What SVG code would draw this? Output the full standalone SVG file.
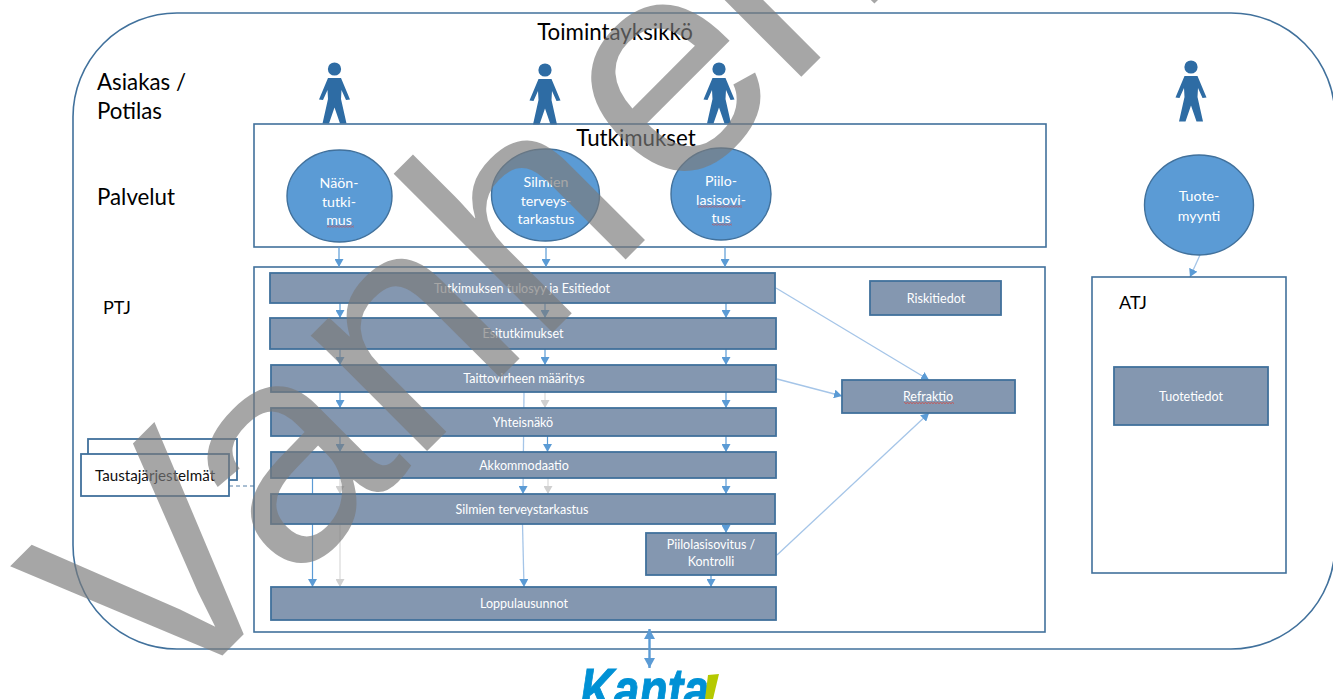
<svg xmlns="http://www.w3.org/2000/svg" width="1333" height="699" viewBox="0 0 1333 699">
<style>
text{font-family:"Lato","Open Sans","Liberation Sans",sans-serif}
.frame{fill:none;stroke:#41719c;stroke-width:1.6}
.frameW{fill:#fff;stroke:#41719c;stroke-width:1.8}
.bar{fill:#8497b0;stroke:#41719c;stroke-width:1.8}
.circ{fill:#5b9bd5;stroke:#41719c;stroke-width:1.4}
.lbl{font-size:12.5px;fill:#fff;text-anchor:middle}
.clbl{font-size:14.2px;fill:#fff;text-anchor:middle}
.head{font-size:22.3px;fill:#000}
.sub{font-size:18px;fill:#000}
.blk{font-size:15.2px;fill:#111;text-anchor:middle}
.a{fill:none;stroke:#5b9bd5;stroke-width:1.2;marker-end:url(#ab)}
.l{fill:none;stroke:#a5c5e8;stroke-width:1.3;marker-end:url(#ab)}
.g{fill:none;stroke:#d9d9d9;stroke-width:1.2;marker-end:url(#ag)}
.person{fill:#2e6ca4}
.sq{fill:url(#wave)}
</style>
<defs>
<marker id="ab" markerUnits="userSpaceOnUse" markerWidth="9" markerHeight="9" refX="8" refY="4.5" orient="auto"><path d="M0 0L8 4.500L0 9z" fill="#5b9bd5"/></marker>
<marker id="ag" markerUnits="userSpaceOnUse" markerWidth="9" markerHeight="9" refX="8" refY="4.5" orient="auto"><path d="M0 0L8 4.500L0 9z" fill="#d0d0d0"/></marker>
<marker id="big" markerUnits="userSpaceOnUse" markerWidth="12" markerHeight="12" refX="10" refY="5.5" orient="auto-start-reverse"><path d="M0 0L10 5.500L0 11z" fill="#5b9bd5"/></marker>
<pattern id="wave" patternUnits="userSpaceOnUse" width="3" height="2"><path d="M0 1.600L1.500 .4L3 1.600" fill="none" stroke="#d9423a" stroke-width=".8"/></pattern>
<symbol id="man" viewBox="0 0 32 62" width="32" height="62" overflow="visible"><circle cx="16" cy="7" r="6.600"/><path d="M9.500 16H22.500L31.500 37.500L27.500 38L23 28L22.500 37L28 61.500H21.500L16 45.500L10.500 61.500H4L9.500 37L9 28L4.500 38L.5 37.500z"/></symbol>
</defs>

<rect id="toimintayksikko-frame" class="frame" x="73" y="13" width="1262" height="636" rx="104" ry="104"/>
<text class="head" x="615" y="40" text-anchor="middle">Toimintayksikkö</text>
<text class="head" x="97" y="90">Asiakas /</text>
<text class="head" x="97" y="119">Potilas</text>
<text class="head" x="97" y="205">Palvelut</text>
<text class="sub" x="103" y="314">PTJ</text>

<g id="persons" class="person">
<use href="#man" x="318.500" y="62"/>
<use href="#man" x="529" y="63"/>
<use href="#man" x="703" y="62"/>
<use href="#man" x="1175" y="60"/>
</g>

<g id="tutkimukset"><rect class="frame" x="254" y="124" width="792" height="123"/><text class="head" x="636" y="146" text-anchor="middle">Tutkimukset</text></g>
<g id="ptj"><rect class="frame" x="254" y="267" width="791" height="365"/></g>

<g id="connectors">
<path class="a" d="M339 247V267"/><path class="a" d="M546 247V267"/><path class="a" d="M725 247V267"/>
<path class="a" d="M340 303V318"/><path class="a" d="M545 303V318"/><path class="a" d="M726 303V318"/>
<path class="a" d="M340 349V365"/><path class="a" d="M545 349V365"/><path class="a" d="M726 349V365"/>
<path class="a" d="M340 392V408"/><path class="g" d="M545 392V408"/><path class="a" d="M726 392V408"/>
<path class="a" d="M340 436V452"/><path class="a" d="M547.500 436V452"/><path class="a" d="M726 436V452"/>
<path class="g" d="M340 478V494"/><path class="g" d="M548 478V494"/><path class="a" d="M726 478V494"/>
<path class="a" d="M726 524V533"/><path class="a" d="M711 575V587"/>
<path class="a" d="M312.500 478V587"/>
<path class="g" d="M340 524V587"/>
<path class="l" d="M524 392L523 494"/>
<path class="l" d="M522.500 524L524 587"/>
<path class="l" d="M776 288L929 380"/>
<path class="l" d="M777 379L842 396"/>
<path class="l" d="M777 555L929 413"/>
<path class="l" d="M1200 255L1190 277"/>
<path d="M649.500 629V668" fill="none" stroke="#5b9bd5" stroke-width="2.400" marker-start="url(#big)" marker-end="url(#big)"/>
<path d="M229 486H254" fill="none" stroke="#41719c" stroke-width=".9" stroke-dasharray="4 3"/>
</g>

<g id="nakontutkimus"><ellipse class="circ" cx="339.500" cy="196" rx="52.500" ry="46"/><text class="clbl" x="339" y="188">Näön-</text><text class="clbl" x="339" y="207">tutki-</text><text class="clbl" x="339" y="225">mus</text><rect class="sq" x="327" y="225.500" width="27" height="2"/></g>
<g id="silmien"><ellipse class="circ" cx="545.500" cy="195" rx="54" ry="46"/><text class="clbl" x="546" y="187">Silmien</text><text class="clbl" x="546" y="206">terveys-</text><text class="clbl" x="546" y="224">tarkastus</text></g>
<g id="piilo"><ellipse class="circ" cx="721" cy="194" rx="50" ry="46"/><text class="clbl" x="721" y="186">Piilo-</text><text class="clbl" x="721" y="205">lasisovi-</text><text class="clbl" x="721" y="223">tus</text><rect class="sq" x="698" y="205.500" width="44" height="2"/><rect class="sq" x="712" y="223.500" width="20" height="2"/></g>
<g id="tuotemyynti"><ellipse class="circ" cx="1199" cy="205" rx="54.500" ry="50"/><text class="clbl" x="1199" y="201">Tuote-</text><text class="clbl" x="1199" y="221">myynti</text></g>

<g id="tulosyy"><rect class="bar" x="270" y="273" width="505" height="30"/><text class="lbl" x="522" y="293">Tutkimuksen tulosyy ja Esitiedot</text></g>
<g id="esitutkimukset"><rect class="bar" x="270" y="318" width="506" height="31"/><text class="lbl" x="523" y="338">Esitutkimukset</text></g>
<g id="taittovirhe"><rect class="bar" x="271" y="365" width="505" height="27"/><text class="lbl" x="524" y="383">Taittovirheen määritys</text></g>
<g id="yhteisnako"><rect class="bar" x="271" y="408" width="505" height="28"/><text class="lbl" x="523" y="427">Yhteisnäkö</text></g>
<g id="akkommodaatio"><rect class="bar" x="271" y="452" width="505" height="26"/><text class="lbl" x="524" y="470">Akkommodaatio</text></g>
<g id="terveystarkastus"><rect class="bar" x="271" y="494" width="504" height="30"/><text class="lbl" x="522" y="514">Silmien terveystarkastus</text></g>
<g id="piilolasisovitus"><rect class="bar" x="646" y="533" width="130" height="42"/><text class="lbl" x="711" y="549">Piilolasisovitus /</text><text class="lbl" x="711" y="566">Kontrolli</text></g>
<g id="loppulausunnot"><rect class="bar" x="271" y="587" width="505" height="33"/><text class="lbl" x="524" y="608">Loppulausunnot</text></g>
<g id="riskitiedot"><rect class="bar" x="870" y="281" width="131" height="34"/><text class="lbl" x="936" y="303">Riskitiedot</text></g>
<g id="refraktio"><rect class="bar" x="842" y="380" width="173" height="33"/><text class="lbl" x="928" y="401">Refraktio</text><rect class="sq" x="904" y="402" width="50" height="2"/></g>
<g id="atj"><rect class="frame" x="1092" y="277" width="194" height="296"/><text class="sub" x="1119" y="309">ATJ</text></g>
<g id="tuotetiedot"><rect class="bar" x="1114" y="367" width="154" height="58"/><text class="lbl" x="1191" y="401">Tuotetiedot</text></g>

<g id="taustajarjestelmat"><rect class="frameW" x="88" y="439" width="149" height="41"/><rect class="frameW" x="81" y="454" width="148" height="42"/><text class="blk" x="155" y="481">Taustajärjestelmät</text></g>

<g id="kanta"><text x="580" y="711" font-size="62" font-weight="700" font-style="italic" fill="#0091d5" stroke="#0091d5" stroke-width="1" textLength="129" lengthAdjust="spacingAndGlyphs" style="font-family:'Liberation Sans',sans-serif">Kanta</text><polygon points="708,675 719,674 713,699 705,699" fill="#b5c900"/></g>

<text id="watermark" x="160" y="718" transform="rotate(-45 160 718)" font-size="310" fill="#7a7a7a" fill-opacity=".67" style="font-family:'Liberation Sans',sans-serif" dx="0 0 0 0 22 -10" dy="0 0 0 5 -5">Vanhen</text>
</svg>
